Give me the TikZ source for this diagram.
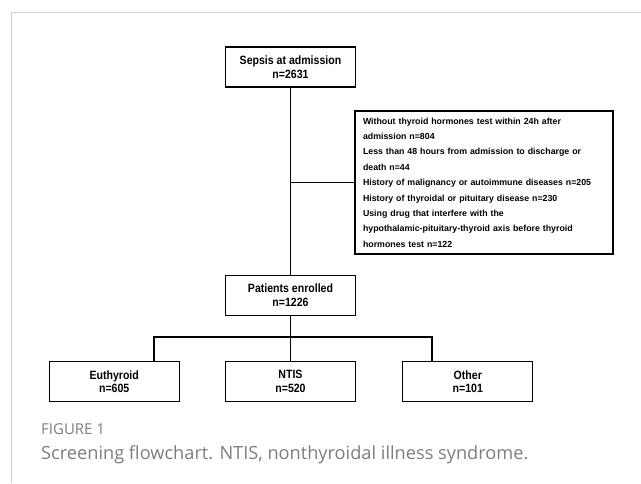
\documentclass[tikz,border=0pt]{standalone}
\usepackage{fontspec}
\setmainfont{Liberation Sans}
\newfontfamily\captionfont{Open Sans}
\newfontfamily\stagefont[FakeStretch=0.88]{Liberation Sans}
\usetikzlibrary{positioning}

\definecolor{framegray}{HTML}{CFCFCF}
\definecolor{captiongray}{HTML}{7D7D7D}

\begin{document}
\begin{tikzpicture}[x=1pt, y=1pt,
  stage/.style={draw, line width=1.3pt, minimum width=130pt, minimum height=40pt,
    inner sep=0pt, align=center, font=\stagefont\fontsize{12}{13.5}\selectfont\bfseries},
  exclusion/.style={draw, line width=1.3pt, text width=242pt, inner xsep=8pt,
    minimum height=143pt, align=left, font=\fontsize{8.8}{15.4}\selectfont\bfseries},
  link/.style={line width=1.2pt}]

  % Page and frame
  \useasboundingbox (0,0) rectangle (641,-483);
  \draw[framegray, line width=1pt] (11,-483) -- (11,-12) -- (641,-12);

  % Define nodes
  \node[stage]                         (sepsis)    at (290.5,-67) {Sepsis at admission\\n=2631};
  \node[exclusion]                     (excluded)  at (484,-182.5)
    {Without thyroid hormones test within 24h after\\
     admission n=804\\
     Less than 48 hours from admission to discharge or\\
     death n=44\\
     History of malignancy or autoimmune diseases n=205\\
     History of thyroidal or pituitary disease n=230\\
     Using drug that interfere with the\\
     hypothalamic-pituitary-thyroid axis before thyroid\\
     hormones test n=122};
  \node[stage, below=187pt of sepsis]   (enrolled)  {Patients enrolled\\n=1226};
  \node[stage, below=45pt of enrolled]  (ntis)      {NTIS\\n=520};
  \node[stage, left=45pt of ntis]       (euthyroid) {Euthyroid\\n=605};
  \node[stage, right=46pt of ntis]      (other)     {Other\\n=101};

  \coordinate (split-l) at (154,-337);
  \coordinate (split-r) at (432,-337);

  % Connect the nodes
  \draw[link] (sepsis) -- (enrolled);
  \draw[link] (sepsis |- excluded.west) -- (excluded.west);
  \draw[link] (enrolled) -- (ntis);
  \draw[link] (split-l |- euthyroid.north) -- (split-l) -- (split-r) -- (split-r |- other.north);

  % Caption
  \node[anchor=base west, inner sep=0pt, text=captiongray,
        font=\captionfont\fontsize{15}{16}\selectfont] (figlabel) at (41,-434) {FIGURE 1};
  \node[anchor=base west, inner sep=0pt, text=captiongray,
        font=\captionfont\fontsize{18.2}{20}\selectfont] (figcaption) at (41,-459)
    {Screening flowchart. NTIS, nonthyroidal illness syndrome.};

\end{tikzpicture}
\end{document}
